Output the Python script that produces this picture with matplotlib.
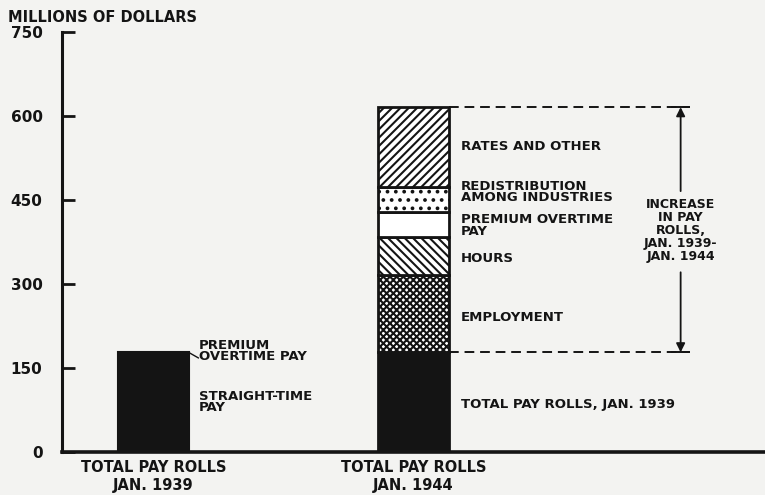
import matplotlib.pyplot as plt
from matplotlib.patches import FancyArrowPatch

plt.rcParams['font.family'] = 'DejaVu Sans'
plt.rcParams['hatch.linewidth'] = 1.5

PAPER = '#f3f3f1'
INK = '#141414'

# pay-roll figures, millions of dollars
total_1939 = 178
segments_1944 = ['TOTAL PAY ROLLS, JAN. 1939', 'EMPLOYMENT', 'HOURS',
                 'PREMIUM OVERTIME\nPAY', 'REDISTRIBUTION\nAMONG INDUSTRIES',
                 'RATES AND OTHER']
segment_values = [178, 138, 68, 45, 44, 143]
segment_fill = [INK, 'white', 'white', 'white', 'white', 'white']
segment_hatch = [None, 'xxxxx', '\\\\\\\\', None, '..', '////']
bar_names = ['TOTAL PAY ROLLS\nJAN. 1939', 'TOTAL PAY ROLLS\nJAN. 1944']
y_ticks = [0, 150, 300, 450, 600, 750]

fig = plt.figure(figsize=(7.65, 4.95), dpi=100, facecolor=PAPER)
ax = fig.add_axes([0.081, 0.087, 0.919, 0.848])
ax.set_facecolor(PAPER)
ax.set_xlim(0, 10)
ax.set_ylim(0, 750)

x1939, x1944, w = 1.3, 5.0, 1.0
lab = dict(fontsize=9.5, fontweight='bold', color=INK, linespacing=0.85)

# Jan. 1939 bar
ax.bar(x1939, total_1939, width=w, color=INK, edgecolor=INK, lw=1.5, zorder=3)

# Jan. 1944 stacked bar
bottom = 0
for val, fc, h in zip(segment_values, segment_fill, segment_hatch):
    ax.bar(x1944, val, width=w, bottom=bottom, color=fc, edgecolor=INK,
           hatch=h, lw=2, zorder=3)
    bottom += val
top_1944 = bottom

# segment labels
label_y = [84, 241, 346, 405, 464, 545]
for txt, yy in zip(segments_1944, label_y):
    ax.text(x1944 + w / 2 + 0.17, yy, txt, va='center', ha='left', **lab)

ax.text(x1939 + w / 2 + 0.15, 180, 'PREMIUM\nOVERTIME PAY', va='center',
        ha='left', **lab)
ax.plot([x1939 + w / 2, x1939 + w / 2 + 0.14], [total_1939, 168], color=INK, lw=1)
ax.text(x1939 + w / 2 + 0.15, 89, 'STRAIGHT-TIME\nPAY', va='center',
        ha='left', **lab)

# dashed guides and increase arrow
x_end = 8.93
for yy in (total_1939, top_1944):
    ax.plot([x1944 + w / 2, x_end], [yy, yy], color=INK, lw=1.4,
            ls=(0, (5, 3)), zorder=2)
xa = 8.8
ax.plot([xa - 0.12, xa + 0.12], [top_1944, top_1944], color=INK, lw=1.4)
ax.plot([xa - 0.12, xa + 0.12], [total_1939, total_1939], color=INK, lw=1.4)
ax.add_patch(FancyArrowPatch((xa, 466), (xa, top_1944), arrowstyle='-|>',
                             mutation_scale=13, color=INK, lw=1.3,
                             shrinkA=0, shrinkB=0))
ax.add_patch(FancyArrowPatch((xa, 321), (xa, total_1939), arrowstyle='-|>',
                             mutation_scale=13, color=INK, lw=1.3,
                             shrinkA=0, shrinkB=0))
ax.text(xa, 395, 'INCREASE\nIN PAY\nROLLS,\nJAN. 1939-\nJAN. 1944',
        fontsize=9, fontweight='bold', ha='center', va='center',
        color=INK, linespacing=1.0)

# axes styling
ax.spines['top'].set_visible(False)
ax.spines['right'].set_visible(False)
ax.spines['left'].set_linewidth(2.2)
ax.spines['bottom'].set_linewidth(2.6)
ax.spines['left'].set_color(INK)
ax.spines['bottom'].set_color(INK)
ax.set_yticks(y_ticks)
ax.set_yticklabels([str(t) for t in y_ticks], fontsize=11, fontweight='bold',
                   color=INK)
ax.tick_params(axis='y', direction='in', length=9, width=2, pad=14, colors=INK)
ax.set_xticks([x1939, x1944])
ax.set_xticklabels(bar_names, fontsize=10.5, fontweight='bold', color=INK,
                   linespacing=1.2)
ax.tick_params(axis='x', length=0, pad=6)

fig.text(0.01, 0.965, 'MILLIONS OF DOLLARS', fontsize=10.5, fontweight='bold',
         color=INK, va='center', ha='left')

fig.savefig('out.png', dpi=100, facecolor=PAPER)
